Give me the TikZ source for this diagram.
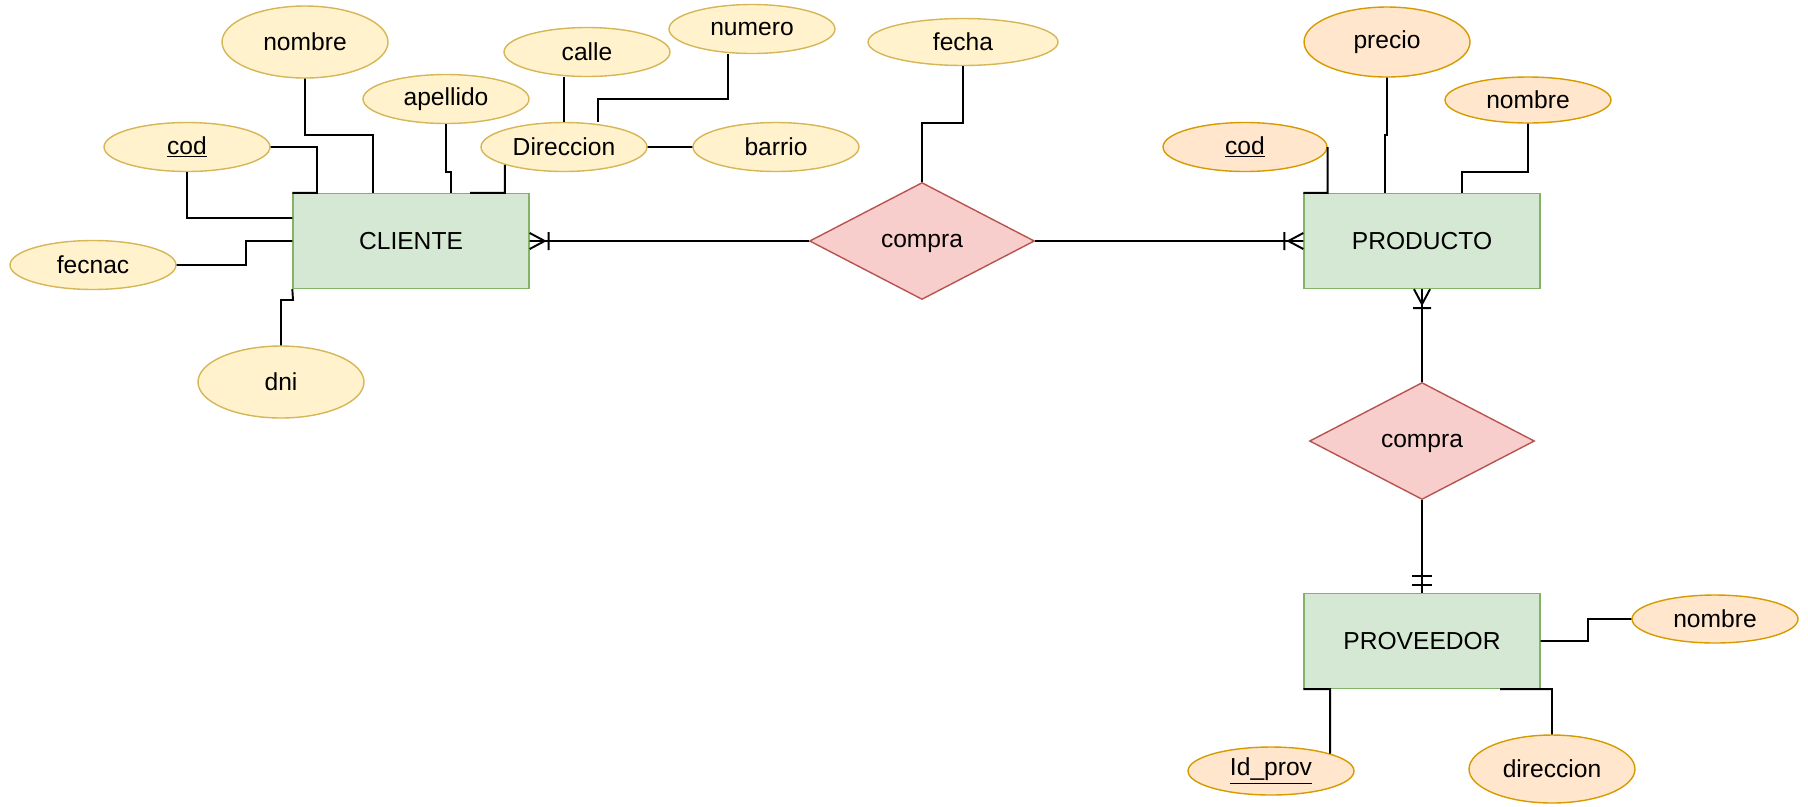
\documentclass[tikz,border=0pt]{standalone}
\usepackage{fontspec}
\setmainfont{Liberation Sans}
\usetikzlibrary{shapes.geometric}

\definecolor{attrfill}{HTML}{FFF2CC}
\definecolor{attrdraw}{HTML}{D6B656}
\definecolor{peachfill}{HTML}{FFE6CC}
\definecolor{peachdraw}{HTML}{D79B00}
\definecolor{entfill}{HTML}{D5E8D4}
\definecolor{entdraw}{HTML}{82B366}
\definecolor{relfill}{HTML}{F8CECC}
\definecolor{reldraw}{HTML}{B85450}

\begin{document}
\begin{tikzpicture}[x=0.02cm, y=-0.02cm,
    font=\fontsize{14}{16}\selectfont,
    attr/.style={ellipse, draw=attrdraw, fill=attrfill, line width=0.8pt, inner sep=0pt,
                 minimum width=3.32cm, minimum height=0.98cm},
    attrp/.style={attr, draw=peachdraw, fill=peachfill},
    entity/.style={rectangle, draw=entdraw, fill=entfill, line width=0.8pt,
                   minimum width=4.72cm, minimum height=1.9cm},
    rel/.style={diamond, draw=reldraw, fill=relfill, line width=0.8pt, inner sep=0pt,
                text depth=0pt, minimum width=4.5cm, minimum height=2.34cm},
    conn/.style={line width=1.1pt},
    crowfoot/.pic={\draw[conn] (0,-8) -- (15,0) -- (0,8) (19,-9) -- (19,9);},
    onlyone/.pic={\draw[conn] (8,-10) -- (8,10) (17,-10) -- (17,10);}]

      \useasboundingbox (0,0) rectangle (1808,806);

      % cliente
      \node at (411,241) [entity] (cliente) {CLIENTE};
      \node at (305,42) [attr, minimum height=1.44cm] (nombre1) {nombre};
      \node at (446,99) [attr] (apellido) {apellido};
      \node at (187,147) [attr] (cod1) {\underline{cod}};
      \node at (93,265) [attr] (fecnac) {fecnac};
      \node at (281,382) [attr, minimum height=1.44cm] (dni) {dni};
      \node at (564,147) [attr] (direccion1) {Direccion};
      \node at (587,52) [attr] (calle) {calle};
      \node at (752,29) [attr] (numero) {numero};
      \node at (776,147) [attr] (barrio) {barrio};

      % relaciones
      \node at (922,241) [rel] (compra1) {compra};
      \node at (963,42) [attr, minimum width=3.8cm, minimum height=0.94cm] (fecha) {fecha};
      \node at (1422,441) [rel] (compra2) {compra};

      % producto
      \node at (1422,241) [entity] (producto) {PRODUCTO};
      \node at (1245,147) [attrp, minimum width=3.28cm] (cod2) {\underline{cod}};
      \node at (1387,42) [attrp, minimum height=1.4cm] (precio) {precio};
      \node at (1528,100) [attrp, minimum height=0.92cm] (nombre2) {nombre};

      % proveedor
      \node at (1422,641) [entity] (proveedor) {PROVEEDOR};
      \node at (1715,619) [attrp, minimum height=0.96cm] (nombre3) {nombre};
      \node at (1552,769) [attrp, minimum height=1.36cm] (direccion2) {direccion};
      \node at (1271,771) [attrp, minimum height=0.96cm] (idprov) {\underline{Id\_prov}};

      \draw[conn]
      (nombre1) |- (373,135) -- (373,135 |- cliente.north)
      (cod1) -| (317,0 |- cliente.north) -- (cliente.north west)
      (cod1) |- (cliente.west |- 0,218)
      (fecnac) -| (246,241) -- (cliente.west)
      (dni) |- (293,300) -- (cliente.south west)
      (apellido) |- (451,172) -- (451,0 |- cliente.north)
      (direccion1.south west) |- (cliente.north -| 470,0)
      (direccion1) -- (direccion1 |- calle.south)
      (numero.south -| 728,0) |- (598,99) -- (598,0 |- direccion1.north)
      (direccion1) -- (barrio)
      (fecha) |- (922,123) -- (compra1.north)
      (compra1) -- (cliente)
      (compra1) -- (producto)
      (cod2.east) |- (producto.north west)
      (precio) |- (1385,135) -- (1385,0 |- producto.north)
      (nombre2) |- (1462,172) -- (1462,0 |- producto.north)
      (producto) -- (compra2)
      (compra2) -- (proveedor)
      (proveedor) -| (1588,619) -- (nombre3)
      (proveedor.south -| 1500,0) -| (direccion2)
      (proveedor.south west) -| (idprov.north east)
      ;

      % cardinalidades
      \pic at (cliente.east) {crowfoot};
      \pic[rotate=180] at (producto.west) {crowfoot};
      \pic[rotate=-90] at (producto.south) {crowfoot};
      \pic[rotate=90] at (proveedor.north) {onlyone};

    \end{tikzpicture}
\end{document}
